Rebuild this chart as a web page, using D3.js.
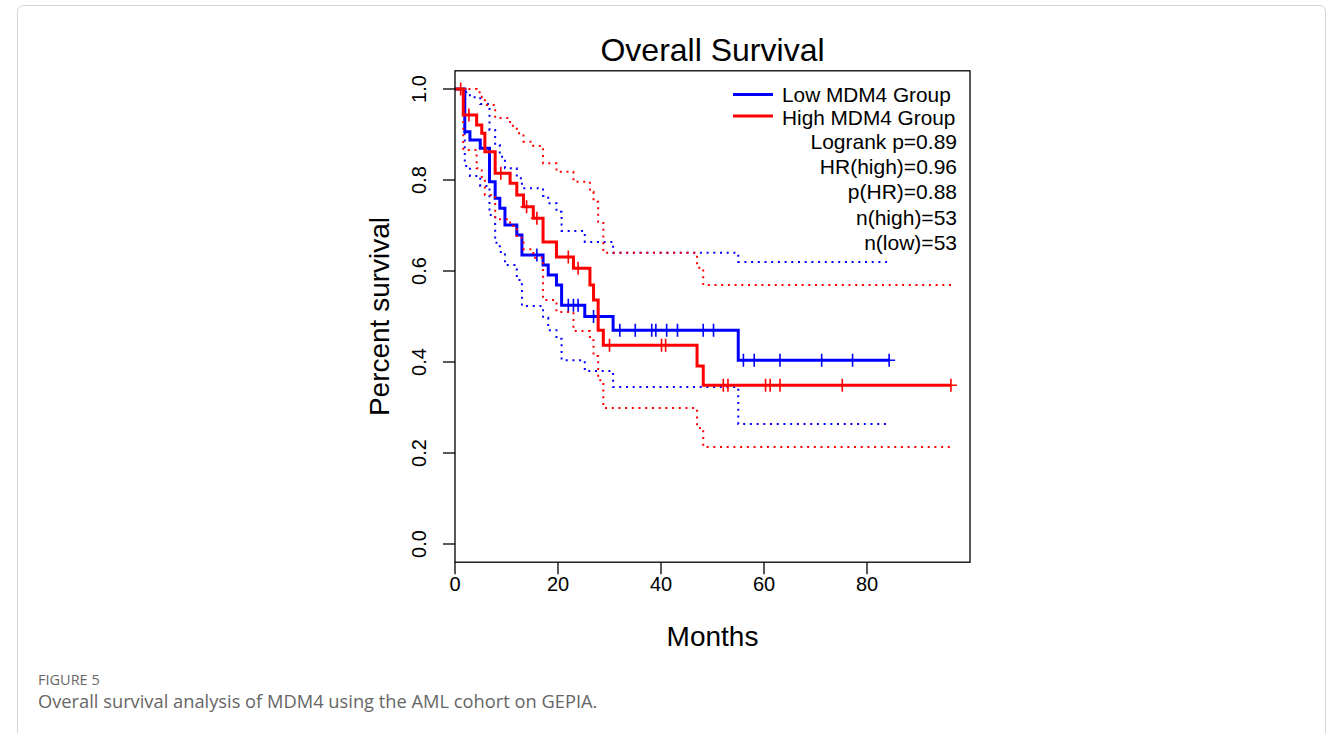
<!DOCTYPE html>
<html>
<head>
<meta charset="utf-8">
<script src="https://cdn.jsdelivr.net/npm/d3@7/dist/d3.min.js"></script>
<style>
  body { margin: 0; background: #fff; }
  svg text { font-family: "Liberation Sans", Arial, sans-serif; fill: #000; }
  svg text.cap { font-family: "Open Sans", "Noto Sans", sans-serif; }
</style>
</head>
<body>
<svg id="chart" width="1332" height="733"></svg>
<script>
// Kaplan-Meier steps (months, survival after the step)
var lowTimes  = [0, 1.9, 2.9, 4.9, 6.7, 7.8, 8.7, 9.7, 12.0, 13.0, 17.1, 18.1, 19.7, 20.7, 25.2, 30.7, 55.0];
var lowSurv   = [1, 0.906, 0.888, 0.870, 0.796, 0.760, 0.738, 0.701, 0.679, 0.635, 0.613, 0.591, 0.569, 0.525, 0.500, 0.470, 0.404];
var lowUpper  = [1, 0.993, 0.982, 0.967, 0.910, 0.877, 0.851, 0.826, 0.804, 0.782, 0.765, 0.749, 0.730, 0.688, 0.664, 0.640, 0.620];
var lowLower  = [1, 0.831, 0.809, 0.787, 0.723, 0.662, 0.642, 0.613, 0.580, 0.523, 0.497, 0.470, 0.451, 0.404, 0.380, 0.345, 0.264];
var lowCensor = [15.9, 22.0, 23.0, 23.9, 26.9, 32.0, 35.0, 38.2, 39.0, 41.1, 43.2, 48.2, 50.2, 56.0, 58.1, 63.1, 71.2, 77.2, 84.3];
var lowEnd = 84.3;

var highTimes  = [0, 1.6, 4.2, 5.2, 5.8, 7.8, 10.7, 12.0, 13.3, 15.2, 17.1, 19.7, 23.0, 26.2, 26.9, 27.8, 28.8, 47.0, 48.2];
var highSurv   = [1, 0.943, 0.921, 0.903, 0.862, 0.815, 0.793, 0.767, 0.741, 0.716, 0.664, 0.631, 0.606, 0.569, 0.536, 0.470, 0.437, 0.391, 0.349];
var highUpper  = [1, 1, 0.993, 0.982, 0.965, 0.936, 0.919, 0.903, 0.884, 0.875, 0.837, 0.818, 0.796, 0.774, 0.752, 0.708, 0.640, 0.607, 0.569];
var highLower  = [1, 0.866, 0.826, 0.804, 0.767, 0.714, 0.699, 0.673, 0.648, 0.629, 0.536, 0.510, 0.468, 0.448, 0.413, 0.360, 0.299, 0.255, 0.213];
var highCensor = [1.1, 2.7, 8.9, 13.9, 15.9, 22.0, 23.9, 30.0, 40.1, 40.9, 52.1, 53.0, 60.3, 61.2, 63.1, 75.2, 96.3];
var highEnd = 96.3;

var xTicks = [0, 20, 40, 60, 80];
var yTicks = [0, 0.2, 0.4, 0.6, 0.8, 1.0];
var legendLabels = ["Low MDM4 Group", "High MDM4 Group"];
var statLabels = ["Logrank p=0.89", "HR(high)=0.96", "p(HR)=0.88", "n(high)=53", "n(low)=53"];

var BLUE = "#0000ff", RED = "#ff0000";

var svg = d3.select("#chart");

// page frame
svg.append("rect")
	.attr("x", 17.5).attr("y", 5.5).attr("width", 1308).attr("height", 760)
	.attr("rx", 6).attr("fill", "none").attr("stroke", "#d4d4d4");

var x = d3.scaleLinear().domain([0, 100]).range([455, 970]);
var y = d3.scaleLinear().domain([0, 1]).range([544, 89]);

var boxTop = y(1.04), boxBottom = y(-0.04);

var g = svg.append("g");

// step curves
var line = d3.line()
	.x(function (d) { return x(d[0]); })
	.y(function (d) { return y(d[1]); })
	.curve(d3.curveStepAfter);

function steps(times, vals, end) {
	var pts = times.map(function (t, i) { return [t, vals[i]]; });
	pts.push([end, vals[vals.length - 1]]);
	return pts;
}

function survAt(times, vals, t) {
	var s = vals[0];
	for (var i = 0; i < times.length; i++) {
		if (times[i] <= t) s = vals[i];
	}
	return s;
}

function drawGroup(times, surv, upper, lower, censor, end, color) {
	[upper, lower].forEach(function (ci) {
		g.append("path")
			.attr("d", line(steps(times, ci, end)))
			.attr("fill", "none")
			.attr("stroke", color)
			.attr("stroke-width", 2)
			.attr("stroke-dasharray", "2,4.7");
	});
	g.append("path")
		.attr("d", line(steps(times, surv, end)))
		.attr("fill", "none")
		.attr("stroke", color)
		.attr("stroke-width", 3);
	g.selectAll(null).data(censor).enter().append("path")
		.attr("d", function (t) {
			var cx = x(t), cy = y(survAt(times, surv, t));
			return "M" + (cx - 6) + "," + cy + "H" + (cx + 6) + "M" + cx + "," + (cy - 6.5) + "V" + (cy + 6.5);
		})
		.attr("fill", "none")
		.attr("stroke", color)
		.attr("stroke-width", 1.6);
}

drawGroup(lowTimes, lowSurv, lowUpper, lowLower, lowCensor, lowEnd, BLUE);
drawGroup(highTimes, highSurv, highUpper, highLower, highCensor, highEnd, RED);

// box
svg.append("rect")
	.attr("x", x(0)).attr("y", boxTop)
	.attr("width", x(100) - x(0)).attr("height", boxBottom - boxTop)
	.attr("fill", "none").attr("stroke", "#000").attr("stroke-width", 1.3);

// x axis, ticks hang below the box
var xAxis = svg.append("g").attr("transform", "translate(0," + boxBottom + ")");
xAxis.selectAll(null).data(xTicks).enter().append("line")
	.attr("x1", function (d) { return x(d); }).attr("x2", function (d) { return x(d); })
	.attr("y1", 0).attr("y2", 12)
	.attr("stroke", "#000").attr("stroke-width", 1.3);
xAxis.selectAll(null).data(xTicks).enter().append("text")
	.attr("x", function (d) { return x(d); }).attr("y", 29)
	.attr("text-anchor", "middle").attr("font-size", 20)
	.text(function (d) { return d; });

// y axis
var yAxis = svg.append("g");
yAxis.selectAll(null).data(yTicks).enter().append("line")
	.attr("x1", x(0) - 12).attr("x2", x(0))
	.attr("y1", function (d) { return y(d); }).attr("y2", function (d) { return y(d); })
	.attr("stroke", "#000").attr("stroke-width", 1.3);
yAxis.selectAll(null).data(yTicks).enter().append("text")
	.attr("transform", function (d) { return "translate(426," + y(d) + ") rotate(-90)"; })
	.attr("text-anchor", "middle").attr("font-size", 20)
	.text(function (d) { return d.toFixed(1); });

// titles
svg.append("text")
	.attr("x", (x(0) + x(100)) / 2).attr("y", 61)
	.attr("text-anchor", "middle").attr("font-size", 32)
	.text("Overall Survival");
svg.append("text")
	.attr("x", (x(0) + x(100)) / 2).attr("y", 646)
	.attr("text-anchor", "middle").attr("font-size", 28)
	.text("Months");
svg.append("text")
	.attr("transform", "translate(389," + (boxTop + boxBottom) / 2 + ") rotate(-90)")
	.attr("text-anchor", "middle").attr("font-size", 28)
	.text("Percent survival");

// legend
var legend = svg.append("g");
[BLUE, RED].forEach(function (c, i) {
	legend.append("line")
		.attr("x1", 733).attr("x2", 773)
		.attr("y1", 94.5 + i * 21.5).attr("y2", 94.5 + i * 21.5)
		.attr("stroke", c).attr("stroke-width", 3);
	legend.append("text")
		.attr("x", 782).attr("y", 101.5 + i * 23.3)
		.attr("font-size", 20.8)
		.text(legendLabels[i]);
});
statLabels.forEach(function (s, i) {
	legend.append("text")
		.attr("x", 957).attr("y", 148.5 + i * 25.4)
		.attr("text-anchor", "end").attr("font-size", 21)
		.text(s);
});

// caption
svg.append("text").attr("class", "cap")
	.attr("x", 38).attr("y", 684.5).attr("font-size", 14.5)
	.style("fill", "#666")
	.text("FIGURE 5");
svg.append("text").attr("class", "cap")
	.attr("x", 38).attr("y", 708).attr("font-size", 18.3)
	.style("fill", "#666")
	.text("Overall survival analysis of MDM4 using the AML cohort on GEPIA.");
</script>
</body>
</html>
